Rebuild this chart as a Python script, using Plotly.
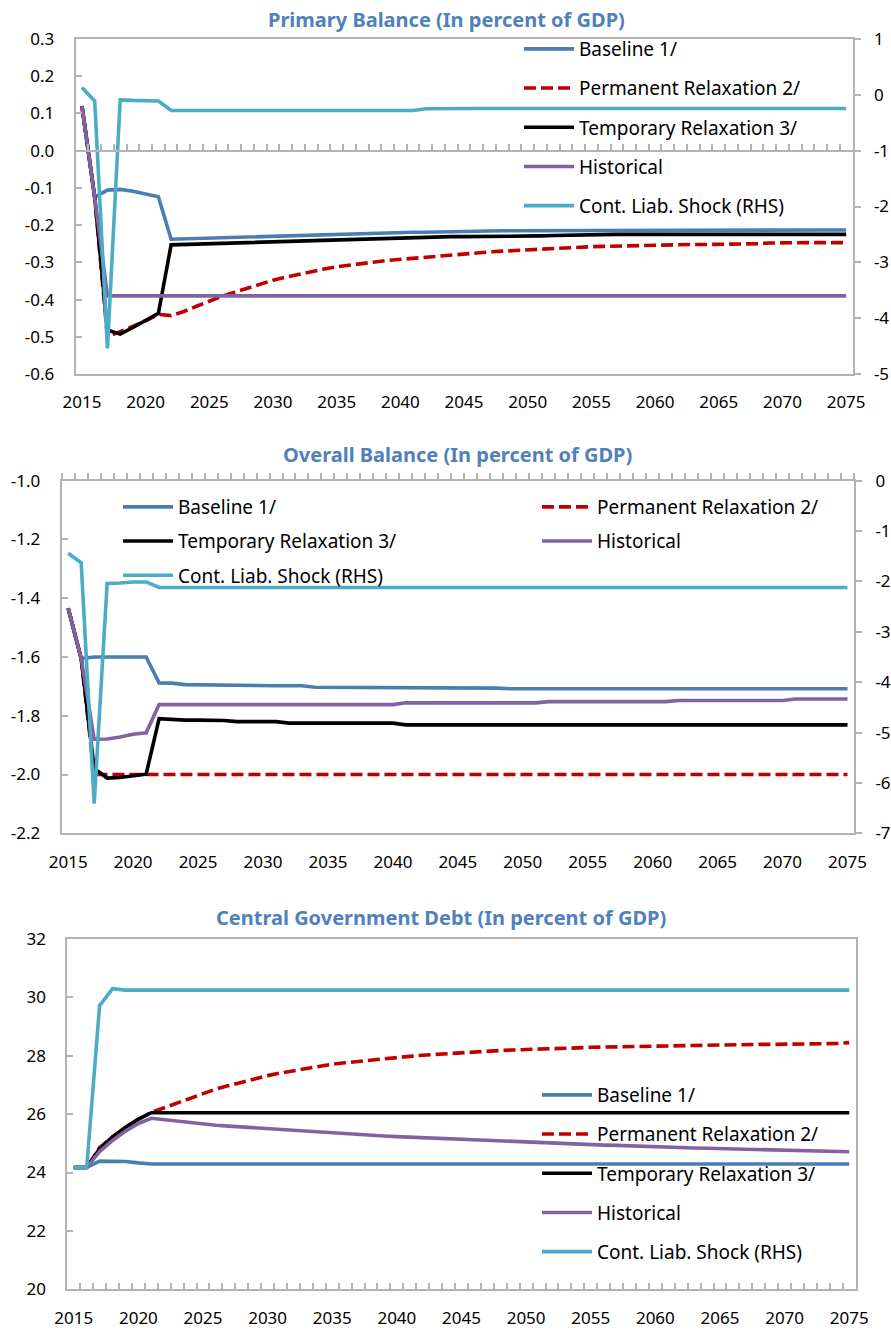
import plotly.graph_objects as go

WIDTH, HEIGHT = 891, 1331

years = list(range(2015, 2076))
year_ticks = [2015, 2020, 2025, 2030, 2035, 2040, 2045, 2050, 2055, 2060, 2065, 2070, 2075]
year_labels = ['2015', '2020', '2025', '2030', '2035', '2040', '2045', '2050',
               '2055', '2060', '2065', '2070', '2075']

series_names = ['Baseline 1/', 'Permanent Relaxation 2/', 'Temporary Relaxation 3/',
                'Historical', 'Cont. Liab. Shock (RHS)']

"""
Primary balance (in percent of GDP), shock on the right axis
"""
pb_baseline = [0.12, -0.125, -0.106, -0.104, -0.109, -0.116, -0.124,
               -0.238, -0.237, -0.235, -0.234, -0.233, -0.231, -0.230, -0.229, -0.228, -0.227,
               -0.226, -0.225, -0.224, -0.223, -0.223, -0.222, -0.221, -0.220, -0.220, -0.219,
               -0.219, -0.218, -0.218, -0.217, -0.216, -0.215, -0.215, -0.215, -0.215, -0.215,
               -0.214, -0.214, -0.214, -0.214,
               -0.213, -0.213, -0.213, -0.213, -0.213, -0.213, -0.213, -0.213, -0.213, -0.213,
               -0.213, -0.213, -0.213, -0.213, -0.213, -0.213, -0.213, -0.213, -0.213, -0.213]
pb_permanent = [0.12, -0.125, -0.500, -0.487, -0.472, -0.457, -0.440,
                -0.443, -0.432, -0.418, -0.404, -0.391, -0.380, -0.369, -0.358, -0.348, -0.340,
                -0.332, -0.325, -0.318, -0.312, -0.307, -0.303, -0.299, -0.295, -0.292, -0.289,
                -0.286, -0.283, -0.279, -0.276, -0.274, -0.272, -0.270, -0.268, -0.267, -0.265,
                -0.263, -0.261, -0.260, -0.258, -0.257, -0.256, -0.255, -0.254, -0.253, -0.252,
                -0.252, -0.252, -0.252, -0.252, -0.250, -0.250, -0.250, -0.248, -0.247, -0.247,
                -0.247, -0.247, -0.247, -0.247]
pb_temporary = [0.12, -0.125, -0.482, -0.493, -0.475, -0.456, -0.437,
                -0.253, -0.252, -0.250, -0.249, -0.248, -0.247, -0.245, -0.244, -0.243, -0.242,
                -0.241, -0.240, -0.239, -0.238, -0.237, -0.236, -0.236, -0.235, -0.235, -0.234,
                -0.232, -0.231, -0.231, -0.231, -0.231, -0.230, -0.230, -0.230, -0.229, -0.229,
                -0.228, -0.227, -0.226,
                -0.225, -0.225, -0.225, -0.225, -0.225, -0.225, -0.225, -0.225, -0.225, -0.225,
                -0.225, -0.225, -0.225, -0.225, -0.225, -0.225, -0.225, -0.225, -0.225, -0.225,
                -0.225]
pb_historical = [0.12, -0.125] + [-0.39] * 59
pb_shock = [0.13, -0.11, -4.54, -0.09, -0.10, -0.11, -0.11] + [-0.28] * 20 + [-0.25] + [-0.245] * 33

pb_left_ticks = [0.3, 0.2, 0.1, 0.0, -0.1, -0.2, -0.3, -0.4, -0.5, -0.6]
pb_left_labels = ['0.3', '0.2', '0.1', '0.0', '-0.1', '-0.2', '-0.3', '-0.4', '-0.5', '-0.6']
pb_right_ticks = [1, 0, -1, -2, -3, -4, -5]
pb_right_labels = ['1', '0', '-1', '-2', '-3', '-4', '-5']

"""
Overall balance (in percent of GDP), shock on the right axis
"""
ob_baseline = [-1.434, -1.605, -1.600, -1.600, -1.600, -1.600, -1.600,
               -1.688, -1.689, -1.694, -1.695, -1.695, -1.695, -1.696, -1.698, -1.698, -1.698,
               -1.698, -1.698] + [-1.703] * 14 + [-1.706] + [-1.708] * 27
ob_permanent = [-1.434, -1.605] + [-2.0] * 59
ob_temporary = [-1.434, -1.605, -1.979, -2.012, -2.010, -2.003, -1.999,
                -1.810, -1.814, -1.815, -1.815, -1.815, -1.816] + [-1.820] * 4 + [-1.825] * 9 + [-1.831] * 35
ob_historical = [-1.434, -1.605, -1.880, -1.879, -1.872, -1.863, -1.858] + [-1.762] * 19 + \
                [-1.756] * 11 + [-1.752] * 10 + [-1.748] * 9 + [-1.743] * 5
ob_shock = [-1.44, -1.63, -6.41, -2.04, -2.03, -2.01, -2.01] + [-2.12] * 54

ob_left_ticks = [-1.0, -1.2, -1.4, -1.6, -1.8, -2.0, -2.2]
ob_left_labels = ['-1.0', '-1.2', '-1.4', '-1.6', '-1.8', '-2.0', '-2.2']
ob_right_ticks = [0, -1, -2, -3, -4, -5, -6, -7]
ob_right_labels = ['0', '-1', '-2', '-3', '-4', '-5', '-6', '-7']

"""
Central government debt (in percent of GDP)
"""
debt_baseline = [24.17, 24.17, 24.39, 24.39, 24.38, 24.33] + [24.29] * 55
debt_permanent = [24.17, 24.17, 24.85, 25.22, 25.53, 25.82, 26.06,
                  26.22, 26.40, 26.57, 26.72, 26.86, 26.98, 27.10, 27.22, 27.32, 27.41,
                  27.49, 27.57, 27.64, 27.71, 27.76, 27.81, 27.86, 27.90, 27.94, 27.98,
                  28.02, 28.05, 28.09, 28.12, 28.14, 28.16, 28.18, 28.20, 28.22, 28.23,
                  28.25, 28.26, 28.27, 28.29, 28.30, 28.31, 28.32, 28.33, 28.34, 28.35,
                  28.36, 28.37, 28.38, 28.39, 28.39, 28.39, 28.39, 28.39, 28.39, 28.39,
                  28.39, 28.39, 28.42, 28.45]
debt_temporary = [24.17, 24.17, 24.82, 25.22, 25.55, 25.83, 26.05] + [26.05] * 54
debt_historical = [24.17, 24.17, 24.72, 25.10, 25.42, 25.68, 25.86,
                   25.81, 25.76, 25.70, 25.65, 25.62, 25.59, 25.56, 25.53, 25.49, 25.47,
                   25.44, 25.41, 25.38, 25.35, 25.33, 25.30, 25.27, 25.25, 25.23, 25.21,
                   25.19, 25.17, 25.15, 25.13, 25.11, 25.09, 25.07, 25.05, 25.03, 25.02,
                   25.00, 24.98, 24.97, 24.96, 24.94, 24.93, 24.91, 24.90, 24.88, 24.87,
                   24.86, 24.84, 24.83, 24.82, 24.81, 24.80, 24.79, 24.78, 24.77, 24.76,
                   24.75, 24.74, 24.73, 24.71]
debt_shock = [24.17, 24.17, 29.72, 30.30] + [30.25] * 57

debt_ticks = [20, 22, 24, 26, 28, 30, 32]
debt_labels = ['20', '22', '24', '26', '28', '30', '32']

FONT = 'Noto Sans, Segoe UI, sans-serif'
AXIS_GREY = '#B3B3B3'
TITLE_BLUE = '#4F81BD'
line_styles = [
    {'color': '#4A7EB0', 'width': 3.6},
    {'color': '#C00000', 'width': 3.6, 'dash': '12px,5px'},
    {'color': '#000000', 'width': 3.6},
    {'color': '#8064A2', 'width': 3.6},
    {'color': '#4BACC6', 'width': 3.6},
]


def px_x(v):
    return v / WIDTH


def px_y(v):
    return 1 - v / HEIGHT


fig = go.Figure()

# the shock series sits on its own overlaying x axis, which carries the yearly tick marks
panels = [
    ([pb_baseline, pb_permanent, pb_temporary, pb_historical, pb_shock],
     ['x', 'x', 'x', 'x', 'x4'], ['y', 'y', 'y', 'y', 'y2'], ['legend'] * 5),
    ([ob_baseline, ob_permanent, ob_temporary, ob_historical, ob_shock],
     ['x2', 'x2', 'x2', 'x2', 'x5'], ['y3', 'y3', 'y3', 'y3', 'y4'],
     ['legend2', 'legend3', 'legend2', 'legend3', 'legend2']),
    ([debt_baseline, debt_permanent, debt_temporary, debt_historical, debt_shock],
     ['x3', 'x3', 'x3', 'x3', 'x6'], ['y5'] * 5, ['legend4'] * 5),
]

for p, (series, xas, yas, legs) in enumerate(panels):
    for i, values in enumerate(series):
        fig.add_trace(go.Scatter(
            x=years, y=values, mode='lines', name=series_names[i],
            line=line_styles[i], xaxis=xas[i], yaxis=yas[i],
            legend=legs[i], legendgroup='p%d_%d' % (p, i),
        ))

x_common = dict(
    range=[2014.5, 2075.5], automargin=False,
    tickmode='array', tickvals=year_ticks, ticktext=year_labels,
    ticks='', showline=True, linecolor=AXIS_GREY, linewidth=2, mirror=True,
    showgrid=False, zeroline=False, ticklabelstandoff=12,
    tickfont={'size': 17, 'color': '#000000'},
)
x_minor = dict(
    range=[2014.5, 2075.5], automargin=False,
    tickmode='linear', tick0=2014.5, dtick=1,
    ticklen=6, tickwidth=1.5, tickcolor=AXIS_GREY, showticklabels=False,
    showline=True, linecolor=AXIS_GREY, linewidth=2, showgrid=False, zeroline=False,
)
y_common = dict(
    tickmode='array', automargin=False, showline=True, linecolor=AXIS_GREY, linewidth=2,
    showgrid=False, zeroline=False, ticklen=6, tickwidth=1.5, tickcolor=AXIS_GREY,
    tickfont={'size': 17, 'color': '#000000'},
)

p1_dom = [px_y(374), px_y(39)]
p1_zero = p1_dom[0] + (0 - (-0.6)) / 0.9 * (p1_dom[1] - p1_dom[0])

fig.update_layout(
    width=WIDTH, height=HEIGHT, autosize=False,
    margin={'l': 0, 'r': 0, 't': 0, 'b': 0, 'pad': 0},
    paper_bgcolor='white', plot_bgcolor='white',
    font={'family': FONT, 'color': '#000000'},
    showlegend=True,

    xaxis=dict(x_common, domain=[px_x(75.6), px_x(852.5)], anchor='y'),
    yaxis=dict(y_common, domain=p1_dom, anchor='x', range=[-0.6, 0.3],
               tickvals=pb_left_ticks, ticktext=pb_left_labels,
               ticks='inside', ticklabelstandoff=16),
    yaxis2=dict(y_common, overlaying='y', side='right', anchor='x', range=[-5, 1],
                tickvals=pb_right_ticks, ticktext=pb_right_labels,
                ticks='outside', ticklabelstandoff=10),
    xaxis4=dict(x_minor, overlaying='x', anchor='free', position=p1_zero, ticks='inside'),

    xaxis2=dict(x_common, domain=[px_x(61.7), px_x(854)], anchor='y3'),
    yaxis3=dict(y_common, domain=[px_y(833.3), px_y(480.7)], anchor='x2', range=[-2.2, -1.0],
                tickvals=ob_left_ticks, ticktext=ob_left_labels,
                ticks='inside', ticklabelstandoff=16),
    yaxis4=dict(y_common, overlaying='y3', side='right', anchor='x2', range=[-7, 0],
                tickvals=ob_right_ticks, ticktext=ob_right_labels,
                ticks='outside', ticklabelstandoff=10),
    xaxis5=dict(x_minor, overlaying='x2', anchor='y3', side='top', ticks='outside'),

    xaxis3=dict(x_common, domain=[px_x(67.3), px_x(855.7)], anchor='y5'),
    yaxis5=dict(y_common, domain=[px_y(1289.3), px_y(939)], anchor='x3', range=[20, 32],
                tickvals=debt_ticks, ticktext=debt_labels, mirror=True,
                ticks='inside', ticklabelstandoff=16),
    xaxis6=dict(x_minor, overlaying='x3', anchor='y5', ticks='inside'),
)

legend_common = dict(
    xanchor='left', yanchor='top', bgcolor='rgba(0,0,0,0)',
    font={'size': 19, 'family': FONT, 'color': '#000000'},
    itemwidth=50, traceorder='grouped', tracegroupgap=11.5,
    orientation='v',
)
fig.update_layout(
    legend=dict(legend_common, x=px_x(519), y=px_y(30)),
    legend2=dict(legend_common, x=px_x(118), y=px_y(488), tracegroupgap=6.5),
    legend3=dict(legend_common, x=px_x(537), y=px_y(488), tracegroupgap=6.5),
    legend4=dict(legend_common, x=px_x(537), y=px_y(1076)),
)

titles = [
    ('Primary Balance (In percent of GDP)', 446, 19),
    ('Overall Balance (In percent of GDP)', 457, 455),
    ('Central Government Debt (In percent of GDP)', 441, 917),
]
for text, cx, cy in titles:
    fig.add_annotation(
        text='<b>%s</b>' % text, xref='paper', yref='paper',
        x=px_x(cx), y=px_y(cy), xanchor='center', yanchor='middle',
        showarrow=False, font={'size': 20, 'color': TITLE_BLUE, 'family': FONT},
    )

# drop the default page margin so the figure fills the window exactly
fig.write_html('out.html', config={'displayModeBar': False},
               post_script="document.body.style.margin='0';document.body.style.overflow='hidden';")
